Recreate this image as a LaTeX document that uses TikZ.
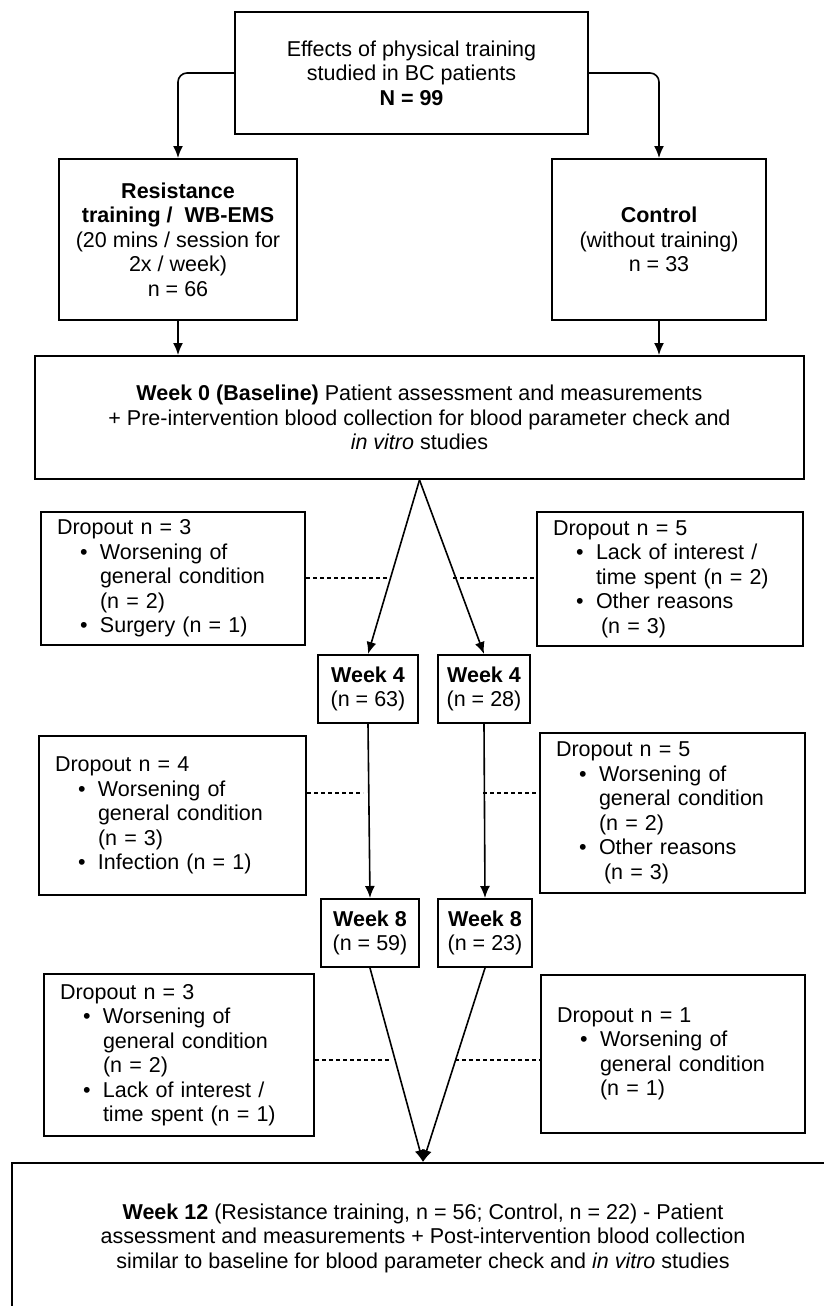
\documentclass[tikz,border=0pt]{standalone}
\usepackage{fontspec}
\setmainfont{Liberation Sans}
\usetikzlibrary{arrows.meta}

\newcommand{\bul}{\hspace*{23pt}\makebox[20pt][l]{\textbullet}}
\newcommand{\cnt}{\hspace*{43pt}}

\begin{document}
\begin{tikzpicture}[x=1pt, y=-1pt,
    every node/.style={font=\fontsize{21.5}{24.5}\selectfont},
    box/.style={draw, line width=2pt, align=center, inner sep=0pt},
    drop/.style={draw, line width=2pt, align=left, inner xsep=16pt, inner ysep=0pt},
    arr/.style={line width=1.6pt, -{Latex[length=12pt, width=10pt]}},
    dots/.style={line width=1.8pt, dash pattern=on 4pt off 3pt}]
    \useasboundingbox (0,0) rectangle (824,1306);
    \clip (0,0) rectangle (824,1306);

    % groups
    \node[box, minimum width=353pt, minimum height=122pt] (top) at (411.5,73)
        {Effects of physical training\\studied in BC patients\\\textbf{N = 99}};
    \node[box, minimum width=238pt, minimum height=161pt] (res) at (178,239.5)
        {\textbf{Resistance}\\\textbf{training /\ \ WB-EMS}\\(20 mins / session for\\2x / week)\\n = 66};
    \node[box, minimum width=214pt, minimum height=161pt] (ctrl) at (659,239.5)
        {\textbf{Control}\\(without training)\\n = 33};
    \node[box, minimum width=769pt, minimum height=123pt] (wk0) at (419.5,417.5)
        {\textbf{Week 0 (Baseline)} Patient assessment and measurements\\
         + Pre-intervention blood collection for blood parameter check and\\
         \textit{in vitro} studies};

    \draw[arr, rounded corners=9pt] (top.west) -| (res.north);
    \draw[arr, rounded corners=9pt] (top.east) -| (ctrl.north);
    \draw[arr] (res.south) -- (res.south |- wk0.north);
    \draw[arr] (ctrl.south) -- (ctrl.south |- wk0.north);

    % week 4
    \node[box, minimum width=100pt, minimum height=68pt] (w4l) at (368,689) {\textbf{Week 4}\\(n = 63)};
    \node[box, minimum width=92pt, minimum height=68pt] (w4r) at (484,689) {\textbf{Week 4}\\(n = 28)};
    \draw[arr] (wk0.south) -- (w4l.north);
    \draw[arr] (wk0.south) -- (w4r.north);

    \node[drop, text width=232pt, minimum height=133pt] (dl1) at (173,578.5)
        {Dropout n = 3\\\bul Worsening of\\\cnt general condition\\\cnt (n = 2)\\\bul Surgery (n = 1)};
    \node[drop, text width=234pt, minimum height=134pt] (dr1) at (670,579)
        {Dropout n = 5\\\bul Lack of interest /\\\cnt time spent (n = 2)\\\bul Other reasons\\\cnt\hspace{5pt}(n = 3)};
    \coordinate (c1l) at (389,578);
    \coordinate (c1r) at (453,578);
    \draw[dots] (dl1.east |- c1l) -- (c1l);
    \draw[dots] (c1r) -- (dr1.west |- c1r);

    % week 8
    \node[box, minimum width=98pt, minimum height=68pt] (w8l) at (370,933) {\textbf{Week 8}\\(n = 59)};
    \node[box, minimum width=94pt, minimum height=68pt] (w8r) at (485,933) {\textbf{Week 8}\\(n = 23)};
    \draw[arr] (w4l.south) -- (w8l.north);
    \draw[arr] (w4r.south) -- (w8r.north);

    \node[drop, text width=235pt, minimum height=159pt] (dl2) at (172.5,815.5)
        {Dropout n = 4\\\bul Worsening of\\\cnt general condition\\\cnt (n = 3)\\\bul Infection (n = 1)};
    \node[drop, text width=233pt, minimum height=160pt] (dr2) at (672.5,813)
        {Dropout n = 5\\\bul Worsening of\\\cnt general condition\\\cnt (n = 2)\\\bul Other reasons\\\cnt\hspace{5pt}(n = 3)};
    \coordinate (c2l) at (363,793);
    \coordinate (c2r) at (483,793);
    \draw[dots] (dl2.east |- c2l) -- (c2l);
    \draw[dots] (c2r) -- (dr2.west |- c2r);

    % week 12
    \node[box, minimum width=822pt, minimum height=150pt] (wk12) at (423,1238)
        {\textbf{Week 12} (Resistance training, n = 56; Control, n = 22) - Patient\\
         assessment and measurements + Post-intervention blood collection\\
         similar to baseline for blood parameter check and \textit{in vitro} studies};
    \draw[arr] (w8l.south) -- (wk12.north);
    \draw[arr] (w8r.south) -- (wk12.north);

    \node[drop, text width=238pt, minimum height=162pt] (dl3) at (179,1055)
        {Dropout n = 3\\\bul Worsening of\\\cnt general condition\\\cnt (n = 2)\\\bul Lack of interest /\\\cnt time spent (n = 1)};
    \node[drop, text width=232pt, minimum height=158pt] (dr3) at (673,1054)
        {Dropout n = 1\\\bul Worsening of\\\cnt general condition\\\cnt (n = 1)};
    \coordinate (c3l) at (389,1060);
    \coordinate (c3r) at (455,1060);
    \draw[dots] (dl3.east |- c3l) -- (c3l);
    \draw[dots] (c3r) -- (dr3.west |- c3r);
\end{tikzpicture}
\end{document}
